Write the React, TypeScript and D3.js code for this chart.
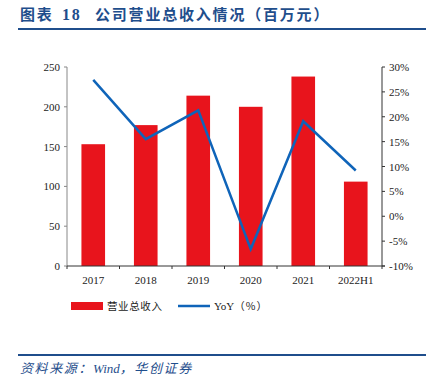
import React from "react";
import * as d3 from "d3";

const categories = ["2017", "2018", "2019", "2020", "2021", "2022H1"];
const revenue = [153, 177, 214, 200, 238, 106];
const yoy = [27.4, 15.5, 21.3, -6.6, 19.1, 9.2];
const leftTicks = [0, 50, 100, 150, 200, 250];
const rightTicks = [-10, -5, 0, 5, 10, 15, 20, 25, 30];

const W = 434;
const H = 377;
const x0 = 67;
const x1 = 382;
const yTop = 67;
const yBot = 266;
const serif = "'Liberation Serif', 'Times New Roman', serif";
const cjk = "'Noto Sans CJK SC', sans-serif";

export default function App() {
  const x = d3.scaleBand<string>().domain(categories).range([x0, x1]).paddingInner(0.55).paddingOuter(0.275);
  const yL = d3.scaleLinear().domain([0, 250]).range([yBot, yTop]);
  const yR = d3.scaleLinear().domain([-10, 30]).range([yBot, yTop]);
  const line = d3
    .line<number>()
    .x((_, i) => (x(categories[i]) as number) + x.bandwidth() / 2)
    .y((d) => yR(d));
  const step = (x1 - x0) / categories.length;

  return (
    <svg width={W} height={H} style={{ position: "absolute", left: 0, top: 0, background: "#fff" }}>
      <text x={20} y={20} fill="#1f4e8c" fontFamily={cjk} fontWeight="bold" fontSize={15} letterSpacing={1.8}>
        图表
        <tspan x={62} fontFamily={serif} fontWeight="bold" fontSize={16}>18</tspan>
        <tspan x={95}>公司营业总收入情况（百万元）</tspan>
      </text>
      <line x1={18} x2={426} y1={29} y2={29} stroke="#1f4e8c" strokeWidth={2} />

      {revenue.map((v, i) => (
        <rect
          key={categories[i]}
          x={x(categories[i])}
          y={yL(v)}
          width={x.bandwidth()}
          height={yBot - yL(v)}
          fill="#e8141c"
        />
      ))}

      {/* left axis */}
      <line x1={x0} x2={x0} y1={yTop} y2={yBot} stroke="#888" strokeWidth={1} />
      {leftTicks.map((t) => (
        <g key={t}>
          <line x1={x0 - 3} x2={x0} y1={yL(t)} y2={yL(t)} stroke="#888" />
          <text x={x0 - 7} y={yL(t) + 4} textAnchor="end" fontFamily={serif} fontSize={11} fill="#222">
            {t}
          </text>
        </g>
      ))}

      {/* right axis */}
      <line x1={x1} x2={x1} y1={yTop} y2={yBot} stroke="#333" strokeWidth={1} />
      {rightTicks.map((t) => (
        <g key={t}>
          <line x1={x1} x2={x1 + 3} y1={yR(t)} y2={yR(t)} stroke="#333" />
          <text x={x1 + 7} y={yR(t) + 4} textAnchor="start" fontFamily={serif} fontSize={11} fill="#222">
            {t}%
          </text>
        </g>
      ))}

      {/* x axis */}
      <line x1={x0} x2={x1 + 3} y1={yBot} y2={yBot} stroke="#333" />
      {d3.range(categories.length + 1).map((i) => (
        <line key={i} x1={x0 + step * i} x2={x0 + step * i} y1={yBot} y2={yBot + 3} stroke="#333" />
      ))}
      {categories.map((c) => (
        <text
          key={c}
          x={(x(c) as number) + x.bandwidth() / 2}
          y={yBot + 18}
          textAnchor="middle"
          fontFamily={serif}
          fontSize={11}
          fill="#222"
        >
          {c}
        </text>
      ))}

      <path d={line(yoy) || ""} fill="none" stroke="#0f64b9" strokeWidth={2.5} />

      {/* legend */}
      <rect x={71} y={302} width={32} height={8} fill="#e8141c" />
      <text x={107} y={310} fontFamily={cjk} fontSize={10.5} fill="#222" letterSpacing={0.6}>营业总收入</text>
      <line x1={178} x2={210} y1={306} y2={306} stroke="#0f64b9" strokeWidth={2.5} />
      <text x={214} y={310} fontFamily={serif} fontSize={11} fill="#222">
        YoY<tspan fontFamily={cjk} fontSize={10.5} letterSpacing={1}>（%）</tspan>
      </text>

      <line x1={18} x2={426} y1={355} y2={355} stroke="#1f4e8c" strokeWidth={2} />
      <text x={20} y={373} fontFamily={cjk} fontStyle="italic" fontSize={13} fill="#1f4e8c" letterSpacing={1.6}>
        资料来源：<tspan fontFamily={serif} fontStyle="italic" letterSpacing={0}>Wind</tspan>，华创证券
      </text>
    </svg>
  );
}
